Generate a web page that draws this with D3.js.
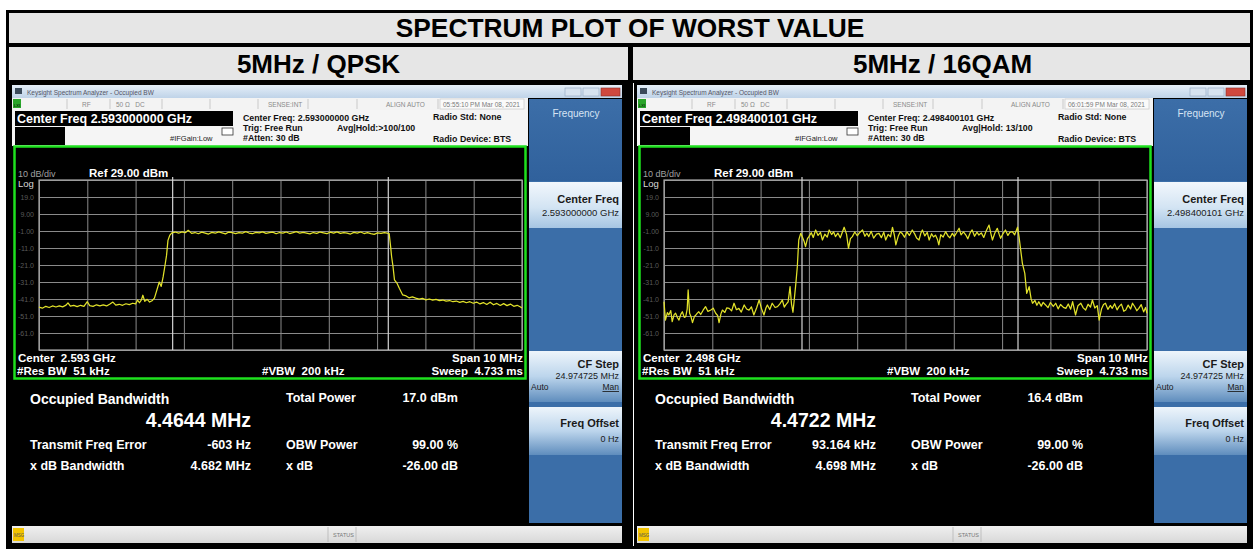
<!DOCTYPE html>
<html><head><meta charset="utf-8">
<script src="https://cdn.jsdelivr.net/npm/d3@7"></script>
<style>body{margin:0;background:#fff}svg text{font-family:"Liberation Sans",Arial,sans-serif;white-space:pre}</style>
</head><body><svg id="c" width="1255" height="549"></svg>
<script>
// ---------------- data ----------------
const chartTitle = "SPECTRUM PLOT OF WORST VALUE";
const panelTitles = ["5MHz / QPSK", "5MHz / 16QAM"];
const centerFreqText = ["2.593000000 GHz", "2.498400101 GHz"];
const centerShort = ["2.593 GHz", "2.498 GHz"];
const timestamps = ["05:55:10 PM Mar 08, 2021", "06:01:59 PM Mar 08, 2021"];
const avgHold = ["Avg|Hold:>100/100", "Avg|Hold: 13/100"];
const obwMHz = [4.4644, 4.4722];
const obwText = ["4.4644 MHz", "4.4722 MHz"];
const freqErrorMHz = [-0.000603, 0.093164];
const freqErrorText = ["-603 Hz", "93.164 kHz"];
const totalPowerText = ["17.0 dBm", "16.4 dBm"];
const xdbBandwidthText = ["4.682 MHz", "4.698 MHz"];
const obwPowerText = ["99.00 %", "99.00 %"];
const xdbText = ["-26.00 dB", "-26.00 dB"];
const refLevel = 29, dbPerDiv = 10, spanMHz = 10;
const yTickValues = [19, 9, -1, -11, -21, -31, -41, -51, -61];
const yTickLabels = ["19.0", "9.00", "-1.00", "-11.0", "-21.0", "-31.0", "-41.0", "-51.0", "-61.0"];
const xGridMHz = [-5, -4, -3, -2, -1, 0, 1, 2, 3, 4, 5];
const yGridDbm = [29, 19, 9, -1, -11, -21, -31, -41, -51, -61, -71];

// trace: [frequency offset from center (MHz), level (dBm)]
const traceQPSK = [
[-5.00,-45.8],[-4.93,-46.4],[-4.86,-45.3],[-4.79,-46.0],[-4.72,-45.1],[-4.65,-45.7],[-4.58,-45.0],[-4.51,-45.6],[-4.44,-44.6],[-4.40,-43.3],[-4.35,-45.2],[-4.28,-44.8],[-4.21,-45.5],[-4.14,-44.7],[-4.07,-45.3],[-4.00,-42.6],[-3.95,-44.9],[-3.88,-45.3],[-3.81,-44.4],[-3.74,-45.0],[-3.67,-44.5],[-3.60,-45.1],[-3.53,-43.9],[-3.47,-42.8],[-3.41,-44.6],[-3.34,-44.1],[-3.27,-44.7],[-3.20,-43.8],[-3.13,-44.3],[-3.06,-43.5],[-3.00,-43.9],[-2.96,-41.6],[-2.92,-43.2],[-2.88,-41.5],[-2.85,-38.8],[-2.81,-42.4],[-2.76,-41.2],[-2.71,-42.8],[-2.66,-42.0],[-2.61,-40.5],[-2.56,-35.8],[-2.51,-31.0],[-2.47,-33.6],[-2.43,-28.0],[-2.39,-21.0],[-2.36,-15.5],[-2.33,-6.5],[-2.29,-3.4],[-2.25,-2.1],
[-2.18,-1.6],[-2.11,-2.3],[-2.04,-1.5],[-1.97,-2.0],[-1.91,-0.6],[-1.84,-2.4],[-1.77,-1.9],[-1.70,-2.6],[-1.63,-1.7],[-1.56,-2.2],[-1.49,-2.8],[-1.42,-1.8],[-1.35,-2.3],[-1.28,-1.5],[-1.21,-2.1],[-1.14,-2.7],[-1.07,-1.6],[-1.00,-2.0],[-0.93,-2.5],[-0.86,-1.9],[-0.79,-2.3],[-0.72,-1.4],[-0.65,-2.2],[-0.58,-2.6],[-0.51,-1.8],[-0.44,-2.1],[-0.37,-1.5],[-0.30,-2.4],[-0.23,-2.0],[-0.16,-1.7],[-0.09,-2.6],[-0.02,-1.9],[0.05,-2.2],[0.12,-1.6],[0.19,-2.5],[0.26,-2.0],[0.33,-1.4],[0.40,-2.3],[0.47,-1.8],[0.54,-2.2],[0.61,-2.7],[0.68,-1.9],[0.75,-2.4],[0.82,-1.6],[0.89,-2.1],[0.96,-2.6],[1.03,-1.7],[1.10,-2.2],[1.17,-1.5],[1.24,-2.4],[1.31,-1.9],[1.38,-2.3],[1.45,-2.8],[1.52,-1.8],[1.59,-2.2],[1.66,-1.6],[1.73,-2.5],[1.80,-2.0],[1.87,-2.6],[1.94,-3.0],[2.01,-2.1],[2.08,-2.4],[2.15,-1.9],[2.21,-2.3],[2.25,-2.5],
[2.28,-10.2],[2.30,-16.0],[2.33,-22.0],[2.36,-29.8],[2.41,-31.6],[2.46,-34.7],[2.53,-38.6],[2.60,-39.2],[2.66,-40.3],[2.73,-39.8],[2.80,-40.5],[2.87,-41.1],[2.94,-40.6],[3.01,-41.5],[3.08,-41.0],[3.15,-41.7],[3.22,-41.2],[3.29,-42.0],[3.36,-41.6],[3.43,-42.3],[3.50,-41.9],[3.57,-42.6],[3.64,-42.2],[3.71,-43.0],[3.78,-42.4],[3.85,-43.2],[3.92,-42.6],[3.99,-43.5],[4.06,-42.8],[4.13,-43.9],[4.20,-43.1],[4.27,-44.2],[4.34,-42.9],[4.41,-44.4],[4.48,-43.6],[4.55,-44.8],[4.62,-43.7],[4.69,-44.9],[4.76,-44.0],[4.83,-45.3],[4.90,-44.7],[4.96,-45.6],[5.00,-46.2]
];
const trace16QAM = [
[-5.00,-42.6],[-4.97,-53.4],[-4.93,-49.0],[-4.90,-50.4],[-4.86,-47.8],[-4.83,-54.3],[-4.79,-50.2],[-4.76,-49.4],[-4.72,-52.0],[-4.69,-53.4],[-4.65,-49.9],[-4.62,-48.5],[-4.58,-51.8],[-4.55,-51.4],[-4.52,-47.0],[-4.50,-35.7],[-4.47,-49.4],[-4.44,-51.5],[-4.41,-54.9],[-4.37,-51.2],[-4.34,-50.4],[-4.31,-49.3],[-4.28,-48.5],[-4.24,-50.1],[-4.19,-47.6],[-4.14,-45.5],[-4.09,-48.3],[-4.03,-47.5],[-3.98,-46.4],[-3.93,-49.4],[-3.89,-50.7],[-3.86,-54.9],[-3.82,-49.6],[-3.79,-47.5],[-3.74,-48.9],[-3.70,-46.2],[-3.65,-46.5],[-3.60,-48.0],[-3.55,-43.5],[-3.50,-47.3],[-3.45,-46.5],[-3.40,-48.7],[-3.34,-44.5],[-3.29,-46.9],[-3.24,-47.5],[-3.19,-45.6],[-3.14,-50.4],[-3.08,-46.0],[-3.03,-41.6],[-2.98,-46.8],[-2.93,-50.4],[-2.89,-46.3],[-2.86,-44.5],[-2.81,-47.2],[-2.76,-43.5],[-2.70,-46.0],[-2.65,-45.5],[-2.60,-43.9],[-2.55,-41.6],[-2.51,-45.8],[-2.48,-44.5],[-2.43,-42.7],[-2.39,-33.7],[-2.36,-44.0],[-2.33,-48.8],[-2.30,-40.5],[-2.27,-31.8],[-2.24,-22.0],[-2.21,-6.3],
[-2.17,-2.4],[-2.14,-4.3],[-2.10,-7.0],[-2.07,-10.2],[-2.03,-5.5],[-2.00,-4.3],[-1.95,-2.0],[-1.91,-4.8],[-1.86,-0.4],[-1.81,-3.6],[-1.76,-1.8],[-1.72,-6.3],[-1.67,-2.9],[-1.62,-4.6],[-1.58,-0.4],[-1.53,-3.1],[-1.49,-1.5],[-1.45,-4.3],[-1.40,-2.2],[-1.35,-5.0],[-1.31,-1.9],[-1.27,1.2],[-1.22,-3.0],[-1.18,-11.2],[-1.14,-5.5],[-1.10,-4.3],[-1.05,-1.6],[-1.00,-3.8],[-0.95,-2.0],[-0.89,-0.4],[-0.84,-4.1],[-0.80,-2.3],[-0.76,-4.3],[-0.71,-1.2],[-0.66,-5.2],[-0.60,-2.8],[-0.55,-2.4],[-0.50,-4.9],[-0.45,-1.7],[-0.41,-6.3],[-0.36,-3.0],[-0.31,-4.4],[-0.27,1.2],[-0.23,-3.5],[-0.20,-9.2],[-0.15,-4.0],[-0.11,-1.6],[-0.07,-2.4],[-0.02,-4.7],[0.03,-1.5],[0.08,-3.6],[0.14,-0.4],[0.19,-2.7],[0.23,-5.1],[0.28,-6.3],[0.32,-2.1],[0.35,-0.4],[0.40,-3.9],[0.45,-1.8],[0.49,-6.3],[0.54,-2.6],[0.58,-4.5],[0.62,-3.4],[0.66,-5.8],[0.69,-9.2],[0.73,-3.2],[0.78,-4.6],[0.83,-1.4],[0.88,-3.9],[0.92,-5.0],[0.97,-2.4],[1.01,-4.2],[1.06,-1.9],[1.11,0.6],[1.15,-3.3],[1.20,-1.5],[1.25,-3.4],[1.29,-5.6],[1.34,-2.0],[1.38,-0.4],[1.43,-4.1],[1.48,-1.7],[1.52,-3.4],[1.57,-2.1],[1.62,-4.8],[1.67,-1.0],[1.73,2.5],[1.77,-2.8],[1.80,-6.3],[1.85,-2.2],[1.90,0.6],[1.94,-3.0],[1.97,-5.3],[2.02,-2.5],[2.07,-0.4],[2.12,-3.6],[2.16,-1.8],[2.21,-1.4],[2.26,-3.2],[2.32,1.2],[2.35,-4.3],
[2.42,-20.0],[2.47,-25.9],[2.51,-37.7],[2.56,-33.7],[2.60,-40.8],[2.63,-43.5],[2.68,-41.9],[2.72,-44.7],[2.76,-42.6],[2.81,-45.2],[2.85,-43.0],[2.90,-44.5],[2.95,-46.1],[3.00,-43.1],[3.06,-45.4],[3.11,-43.5],[3.16,-46.8],[3.21,-44.2],[3.27,-45.9],[3.32,-46.5],[3.37,-43.9],[3.42,-47.0],[3.46,-42.6],[3.52,-50.4],[3.57,-45.0],[3.63,-43.5],[3.68,-46.2],[3.73,-47.5],[3.78,-44.1],[3.83,-45.8],[3.87,-41.6],[3.92,-46.3],[3.97,-44.9],[4.01,-53.4],[4.06,-46.7],[4.10,-44.2],[4.14,-43.5],[4.19,-47.1],[4.24,-44.8],[4.28,-46.5],[4.33,-43.8],[4.38,-47.4],[4.42,-45.5],[4.47,-44.0],[4.52,-48.2],[4.56,-47.5],[4.61,-44.6],[4.66,-46.9],[4.70,-43.5],[4.75,-45.7],[4.79,-47.9],[4.83,-46.5],[4.88,-44.3],[4.93,-48.6],[4.97,-46.0],[5.00,-49.4]
];
const traces = [traceQPSK, trace16QAM];

// ---------------- drawing ----------------
const svg = d3.select("#c");
const defs = svg.append("defs");
function grad(id, stops) {
  const g = defs.append("linearGradient").attr("id", id).attr("x1", 0).attr("y1", 0).attr("x2", 0).attr("y2", 1);
  stops.forEach(s => g.append("stop").attr("offset", s[0]).attr("stop-color", s[1]));
}
grad("gTitle", [[0, "#e4eef8"], [1, "#bfd3e8"]]);
grad("gBtn", [[0, "#f2f7fc"], [0.55, "#d3e4f3"], [1, "#a6c5e3"]]);
grad("gBtn2", [[0, "#eef5fb"], [0.5, "#bcd5ec"], [1, "#5f8dbd"]]);
grad("gHead", [[0, "#3c6ea8"], [1, "#30619c"]]);
grad("gStat", [[0, "#f0f0f0"], [1, "#d8d8d8"]]);

svg.append("rect").attr("width", 1255).attr("height", 549).attr("fill", "#fff");

// table bands
svg.append("rect").attr("x", 9).attr("y", 13).attr("width", 1241).attr("height", 30).attr("fill", "#e6e6e6");
svg.append("rect").attr("x", 9).attr("y", 47).attr("width", 619).attr("height", 33).attr("fill", "#e6e6e6");
svg.append("rect").attr("x", 633).attr("y", 47).attr("width", 617).attr("height", 33).attr("fill", "#e6e6e6");
// black rules
[[6, 10, 3, 539], [6, 10, 1247, 3], [6, 43, 1247, 4], [6, 80, 1247, 3], [628, 43, 5, 506], [1250, 10, 3, 539], [6, 546, 1247, 3]]
  .forEach(r => svg.append("rect").attr("x", r[0]).attr("y", r[1]).attr("width", r[2]).attr("height", r[3]).attr("fill", "#000"));

svg.append("text").attr("x", 630).attr("y", 37).attr("text-anchor", "middle")
  .attr("font-size", 26.3).attr("font-weight", "bold").attr("fill", "#000").text(chartTitle);
[318.5, 942.5].forEach((cx, i) => svg.append("text").attr("x", cx).attr("y", 73).attr("text-anchor", "middle")
  .attr("font-size", 26).attr("font-weight", "bold").attr("fill", "#000").text(panelTitles[i]));

function txt(g, x, y, s, size, opts = {}) {
  return g.append("text").attr("x", x).attr("y", y).attr("font-size", size)
    .attr("font-weight", opts.bold ? "bold" : "normal").attr("fill", opts.fill || "#000")
    .attr("text-anchor", opts.anchor || "start").text(s);
}

function drawPanel(i, ox) {
  const g = svg.append("g").attr("transform", `translate(${ox},0)`);
  // screenshot background
  g.append("rect").attr("x", 9).attr("y", 83).attr("width", 619).attr("height", 463).attr("fill", "#000");
  // window title bar
  g.append("rect").attr("x", 12).attr("y", 85).attr("width", 610).attr("height", 13).attr("fill", "url(#gTitle)");
  g.append("rect").attr("x", 15).attr("y", 88).attr("width", 7).attr("height", 6).attr("fill", "#3a4a5a");
  txt(g, 27, 94.5, "Keysight Spectrum Analyzer - Occupied BW", 6.5, { fill: "#556" });
  [[565, "#d6e2ef"], [583, "#d6e2ef"]].forEach(b => g.append("rect").attr("x", b[0]).attr("y", 88).attr("width", 16).attr("height", 8)
    .attr("fill", b[1]).attr("stroke", "#8fa6bf").attr("stroke-width", 0.6));
  g.append("rect").attr("x", 601).attr("y", 88).attr("width", 19).attr("height", 8).attr("fill", "#d0483e").attr("stroke", "#8a2c25").attr("stroke-width", 0.6);
  // status row
  g.append("rect").attr("x", 12).attr("y", 98).attr("width", 516).attr("height", 12).attr("fill", "#f3f3f3");
  g.append("rect").attr("x", 13).attr("y", 99).attr("width", 8).attr("height", 9).attr("fill", "#2aa52a");
  txt(g, 14, 106.5, "LXI", 4, { fill: "#000" });
  [67, 110, 162, 210, 258, 308, 357, 438].forEach(x => g.append("line").attr("x1", x).attr("x2", x).attr("y1", 99).attr("y2", 109).attr("stroke", "#b8b8b8").attr("stroke-width", 0.7));
  txt(g, 82, 107, "RF", 6.5, { fill: "#8a8a8a" });
  txt(g, 116, 107, "50 Ω   DC", 6.5, { fill: "#8a8a8a" });
  txt(g, 268, 107, "SENSE:INT", 6.5, { fill: "#8a8a8a" });
  txt(g, 386, 107, "ALIGN AUTO", 6.5, { fill: "#8a8a8a" });
  g.append("rect").attr("x", 440).attr("y", 99).attr("width", 84).attr("height", 10).attr("fill", "#fafafa").attr("stroke", "#c4c4c4").attr("stroke-width", 0.6);
  txt(g, 443, 107, timestamps[i], 6.5, { fill: "#7a7a7a" });
  // settings area
  g.append("rect").attr("x", 12).attr("y", 110).attr("width", 516).attr("height", 36).attr("fill", "#f5f5f5");
  g.append("rect").attr("x", 15).attr("y", 111).attr("width", 218).attr("height", 15).attr("fill", "#000");
  txt(g, 17, 123, "Center Freq " + centerFreqText[i], 12.5, { bold: true, fill: "#fff" });
  g.append("rect").attr("x", 15).attr("y", 127).attr("width", 50).attr("height", 18).attr("fill", "#000");
  g.append("rect").attr("x", 222).attr("y", 128).attr("width", 11).attr("height", 7).attr("fill", "#fff").attr("stroke", "#333").attr("stroke-width", 0.8);
  txt(g, 170, 141, "#IFGain:Low", 7.5, { fill: "#222" });
  txt(g, 243, 120.5, "Center Freq: " + centerFreqText[i], 8.8, { bold: true, fill: "#111" });
  txt(g, 243, 130.5, "Trig: Free Run", 8.8, { bold: true, fill: "#111" });
  txt(g, 337, 130.5, avgHold[i], 8.8, { bold: true, fill: "#111" });
  txt(g, 243, 140.5, "#Atten: 30 dB", 8.8, { bold: true, fill: "#111" });
  txt(g, 433, 119.5, "Radio Std: None", 8.8, { bold: true, fill: "#111" });
  txt(g, 433, 141.5, "Radio Device: BTS", 8.8, { bold: true, fill: "#111" });

  // green frame
  g.append("rect").attr("x", 14.5).attr("y", 146.5).attr("width", 511).attr("height", 232).attr("fill", "#000")
    .attr("stroke", "#1ee01e").attr("stroke-width", 2.5);

  // scales
  const x = d3.scaleLinear().domain([-spanMHz / 2, spanMHz / 2]).range([39, 522]);
  const y = d3.scaleLinear().domain([refLevel - 10 * dbPerDiv, refLevel]).range([350, 180]);

  const gx = g.append("g").attr("transform", "translate(0,350)")
    .call(d3.axisBottom(x).tickValues(xGridMHz).tickSize(-170).tickFormat(""));
  gx.select(".domain").remove();
  gx.selectAll("line").attr("stroke", "#8a8a8a").attr("stroke-width", 1);
  const gy = g.append("g").attr("transform", "translate(39,0)")
    .call(d3.axisLeft(y).tickValues(yGridDbm).tickSize(-483).tickFormat(""));
  gy.select(".domain").remove();
  gy.selectAll("line").attr("stroke", "#8a8a8a").attr("stroke-width", 1);
  g.append("rect").attr("x", x(-5)).attr("y", y(29)).attr("width", x(5) - x(-5)).attr("height", y(-71) - y(29))
    .attr("fill", "none").attr("stroke", "#a8a8a8").attr("stroke-width", 1.2);

  yTickValues.forEach((v, k) => txt(g, 34, y(v) + 2.5, yTickLabels[k], 7, { fill: "#5a5a5a", anchor: "end" }));

  // OBW markers
  const fc = freqErrorMHz[i];
  [fc - obwMHz[i] / 2, fc + obwMHz[i] / 2].forEach(f => g.append("line")
    .attr("x1", x(f)).attr("x2", x(f)).attr("y1", 177).attr("y2", 350).attr("stroke", "#d4d4d4").attr("stroke-width", 1.2));

  // trace
  g.append("path").datum(traces[i]).attr("fill", "none").attr("stroke", "#e2e22a").attr("stroke-width", 1.25)
    .attr("stroke-linejoin", "round")
    .attr("d", d3.line().x(d => x(d[0])).y(d => y(d[1])));

  txt(g, 18, 176.5, "10 dB/div", 9, { fill: "#a0a0a0" });
  txt(g, 18, 187, "Log", 9.5, { fill: "#d8d8d8" });
  txt(g, 89, 177, "Ref 29.00 dBm", 11.5, { bold: true, fill: "#fff" });
  txt(g, 18, 361.5, "Center  " + centerShort[i], 11.5, { bold: true, fill: "#fff" });
  txt(g, 17, 375, "#Res BW  51 kHz", 11.5, { bold: true, fill: "#fff" });
  txt(g, 262, 375, "#VBW  200 kHz", 11.5, { bold: true, fill: "#fff" });
  txt(g, 523, 361.5, "Span 10 MHz", 11.5, { bold: true, fill: "#fff", anchor: "end" });
  txt(g, 523, 375, "Sweep  4.733 ms", 11.5, { bold: true, fill: "#fff", anchor: "end" });

  // measurement results
  txt(g, 30, 403.5, "Occupied Bandwidth", 14, { bold: true, fill: "#fff" });
  txt(g, 251, 426.5, obwText[i], 19.5, { bold: true, fill: "#fff", anchor: "end" });
  txt(g, 286, 401.5, "Total Power", 12.5, { bold: true, fill: "#fff" });
  txt(g, 458, 401.5, totalPowerText[i], 12.5, { bold: true, fill: "#fff", anchor: "end" });
  txt(g, 30, 448.5, "Transmit Freq Error", 12.5, { bold: true, fill: "#fff" });
  txt(g, 251, 448.5, freqErrorText[i], 12.5, { bold: true, fill: "#fff", anchor: "end" });
  txt(g, 286, 448.5, "OBW Power", 12.5, { bold: true, fill: "#fff" });
  txt(g, 458, 448.5, obwPowerText[i], 12.5, { bold: true, fill: "#fff", anchor: "end" });
  txt(g, 30, 469.5, "x dB Bandwidth", 12.5, { bold: true, fill: "#fff" });
  txt(g, 251, 469.5, xdbBandwidthText[i], 12.5, { bold: true, fill: "#fff", anchor: "end" });
  txt(g, 286, 469.5, "x dB", 12.5, { bold: true, fill: "#fff" });
  txt(g, 458, 469.5, xdbText[i], 12.5, { bold: true, fill: "#fff", anchor: "end" });

  // softkeys
  g.append("rect").attr("x", 529).attr("y", 99).attr("width", 93).attr("height", 424).attr("fill", "#3b6ea8");
  g.append("rect").attr("x", 529).attr("y", 99).attr("width", 93).attr("height", 82).attr("fill", "url(#gHead)");
  txt(g, 576, 116.5, "Frequency", 10, { fill: "#d6e4f4", anchor: "middle" });
  const btn = (y0, h, fill) => g.append("rect").attr("x", 529).attr("y", y0).attr("width", 93).attr("height", h).attr("fill", fill);
  btn(182, 46, "url(#gBtn)");
  txt(g, 619, 203, "Center Freq", 11, { bold: true, fill: "#1a1a1a", anchor: "end" });
  txt(g, 619, 216, centerFreqText[i], 9.5, { fill: "#1a1a1a", anchor: "end" });
  btn(351, 51, "url(#gBtn2)");
  txt(g, 619, 368, "CF Step", 11, { bold: true, fill: "#1a1a1a", anchor: "end" });
  txt(g, 619, 378.5, "24.974725 MHz", 9, { fill: "#1a1a1a", anchor: "end" });
  txt(g, 531, 390, "Auto", 8.5, { fill: "#1a1a1a" });
  txt(g, 619, 390, "Man", 8.5, { fill: "#1a1a1a", anchor: "end" }).attr("text-decoration", "underline");
  btn(407, 48, "url(#gBtn2)");
  txt(g, 619, 427, "Freq Offset", 11, { bold: true, fill: "#1a1a1a", anchor: "end" });
  txt(g, 619, 442, "0 Hz", 9, { fill: "#1a1a1a", anchor: "end" });

  // status bar
  g.append("rect").attr("x", 12).attr("y", 526).attr("width", 610).attr("height", 17).attr("fill", "url(#gStat)");
  g.append("rect").attr("x", 13).attr("y", 528).attr("width", 11).attr("height", 13).attr("fill", "#f3c400");
  txt(g, 14, 536.5, "MSG", 4.5, { fill: "#555" });
  [328, 356].forEach(xx => g.append("line").attr("x1", xx).attr("x2", xx).attr("y1", 527).attr("y2", 542).attr("stroke", "#b0b0b0").attr("stroke-width", 0.7));
  txt(g, 333, 537, "STATUS", 5.5, { fill: "#777" });
}
drawPanel(0, 0);
drawPanel(1, 625);
</script></body></html>
